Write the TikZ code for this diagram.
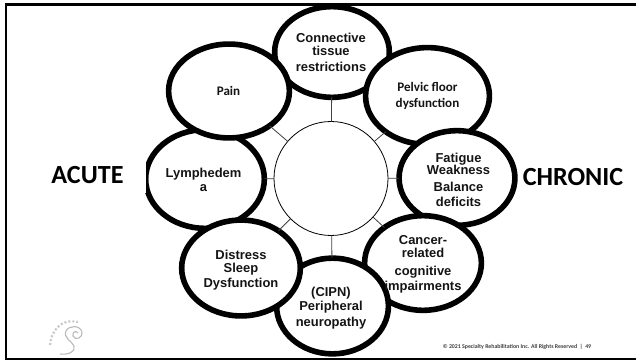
\documentclass[tikz,border=0pt]{standalone}
\usepackage{fontspec}
\setmainfont{Liberation Sans}
\newfontfamily\calib{Carlito}
\usetikzlibrary{shapes.geometric}
\tikzset{
  ring/.style={draw=black,fill=white,line width=4.2pt,ellipse,inner sep=0pt,outer sep=0pt},
  spoke/.style={draw=black!75,line width=0.6pt},
  arl/.style={align=center,font=\bfseries\fontsize{9.7}{9.4}\selectfont,inner sep=0pt,text=black!92},
  cal/.style={align=center,font=\calib\bfseries\fontsize{9.8}{12}\selectfont,inner sep=0pt,text=black!92},
  side/.style={font=\calib\bfseries\fontsize{19.6}{22}\selectfont,inner sep=0pt},
}
\begin{document}
\begin{tikzpicture}[x=0.75pt,y=-0.75pt]
\useasboundingbox (0,0) rectangle (636,360);
\fill[white] (0,0) rectangle (636,360);
\node[draw=black,line width=0.6pt,circle,minimum size=85.5pt,inner sep=0pt,outer sep=0pt] (hub) at (331,178.5) {};
\node[ring,minimum width=86pt,minimum height=68pt] (conn) at (332,52) {};
\node[ring,minimum width=89pt,minimum height=74pt] (lymph) at (205,179) {};
\fill[white] (130,152) rectangle (146,193);
\node[ring,minimum width=92.9pt,minimum height=72.6pt] (pelvic) at (427.5,96) {};
\node[ring,minimum width=86.9pt,minimum height=71pt] (fatigue) at (457,178) {};
\node[ring,minimum width=87.6pt,minimum height=71pt] (cancer) at (423,263) {};
\node[ring,minimum width=83.9pt,minimum height=71.8pt] (cipn) at (332.5,306) {};
\node[ring,minimum width=89pt,minimum height=71.9pt] (distress) at (241,268) {};
\node[ring,minimum width=90.6pt,minimum height=70.4pt] (pain) at (229,91) {};
\draw[spoke] (hub) -- (conn);
\draw[spoke] (hub) -- (pelvic);
\draw[spoke] (hub) -- (fatigue);
\draw[spoke] (hub) -- (cancer);
\draw[spoke] (hub) -- (cipn);
\draw[spoke] (hub) -- (distress);
\draw[spoke] (hub) -- (lymph);
\draw[spoke] (hub) -- (pain);
\node[arl] (tconn) at (331,52.5) {Connective\\[0.4pt]tissue\\[2.6pt]restrictions};
\node[cal] (tpelvic) at (427.5,96) {Pelvic floor\\dysfunction};
\node[arl] (tfat) at (458.5,180) {Fatigue\\Weakness\\[3.4pt]Balance\\[1.9pt]deficits};
\node[arl] (tcan) at (423,264.5) {Cancer-\\related\\[4.1pt]cognitive\\[1.9pt]impairments};
\node[arl] (tcipn) at (331,308) {(CIPN)\\[1.1pt]Peripheral\\[2.6pt]neuropathy};
\node[arl] (tdis) at (241,270) {Distress\\[0.4pt]Sleep\\[1.9pt]Dysfunction};
\node[arl] (tly) at (203.5,180) {Lymphedem\\[1.5pt]a};
\node[cal] (tpain) at (228.5,91) {Pain};
\node[side] (acute) at (87.5,175.5) {ACUTE};
\node[side] (chronic) at (573,177.5) {CHRONIC};
\node[inner sep=0pt,font=\calib\bfseries\fontsize{4.37}{5}\selectfont,text=black!75] (foot) at (517,347) {© 2021 Specialty Rehabilitation Inc. All Rights Reserved\ \ |\ \ 49};
\draw[black!28,line width=0.8pt] (60,354) .. controls (68,355) and (76,352) .. (74,346) .. controls (72,341) and (63,338) .. (66,331) .. controls (69,325) and (80,325) .. (82,332) .. controls (83,338) and (75,341) .. (73,336) .. controls (72,332) and (76,330) .. (78,333);
\draw[black!22,line width=1.6pt,dash pattern=on 1.5pt off 1.5pt] (50,345) .. controls (51,332) and (60,318) .. (78,322);
\draw[black,line width=1.8pt] (636,4.7) -- (6,4.7) -- (6,358.8) -- (636,358.8);
\end{tikzpicture}
\end{document}
